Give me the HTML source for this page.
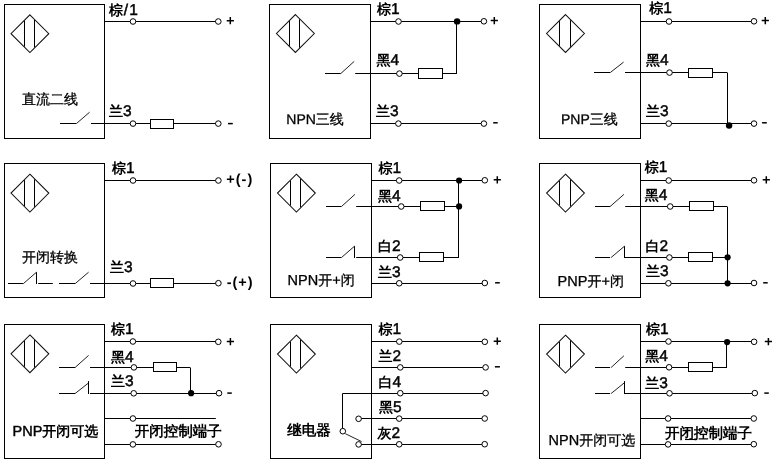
<!DOCTYPE html>
<html><head><meta charset="utf-8"><style>
html,body{margin:0;padding:0;background:#fff;width:782px;height:464px;overflow:hidden}
svg{position:absolute;left:0;top:0;transform:translateZ(0)}
path,rect,circle{fill:none;stroke:#000;stroke-width:1}
.w{fill:#fff}
.k{fill:#000;stroke:none}
.d{stroke:#111;stroke-width:1.05}
.g{stroke:#222;stroke-width:1}
.s{stroke:#000}
text{font-family:"Liberation Sans",sans-serif;fill:#000;stroke:none;text-rendering:geometricPrecision}
text.b{font-weight:normal;stroke:#000;stroke-width:0.45}
text.bb{font-weight:bold;letter-spacing:1px}
text.b tspan.c{font-weight:bold;stroke:none}
text.r{font-weight:normal}
text.r{stroke:#000;stroke-width:0.3}
</style></head><body>
<svg width="782" height="464" viewBox="0 0 782 464">
<rect x="4.5" y="4.5" width="100" height="134"/>
<path class="d" d="M29.9 14.800000000000004L48.8 33.7L29.9 52.6L11.0 33.7Z"/>
<path d="M24.5 20.800000000000004V46.6"/>
<path d="M34.5 20.000000000000007V47.4"/>
<path d="M104 21.5H218"/>
<circle class="w" cx="133" cy="21.5" r="2.8"/>
<circle class="w" cx="218.3" cy="21.5" r="2.8"/>
<text class="b" x="109" y="15.3" style="font-size:15.5px"><tspan class="c" style="font-size:14px">棕</tspan><tspan dx="0.8">/</tspan><tspan dx="1.2">1</tspan></text>
<path class="s" style="stroke-width:1.5" d="M226.70000000000002 20.7H233.9M230.3 17.099999999999998V24.3"/>
<text class="r" x="22" y="104.0" style="font-size:14.5px"><tspan class="c" style="font-size:14px">直流二线</tspan></text>
<path d="M60 123.5H76.5"/>
<path class="g" d="M76.5 123.5L89.6 112.2"/>
<path d="M91 123.5H218"/>
<rect class="w" x="150.5" y="119.5" width="23" height="9"/>
<circle class="w" cx="133" cy="123.6" r="2.8"/>
<circle class="w" cx="218.3" cy="123.6" r="2.8"/>
<text class="b" x="109" y="116.3" style="font-size:15.5px"><tspan class="c" style="font-size:14px">兰</tspan>3</text>
<path class="s" style="stroke-width:1.5" d="M228 123.6H232.8"/>
<rect x="269.5" y="4.5" width="101" height="134"/>
<path class="d" d="M295.4 14.600000000000001L314.29999999999995 33.5L295.4 52.4L276.5 33.5Z"/>
<path d="M289.5 21.09999999999998V45.90000000000002"/>
<path d="M299.5 19.300000000000026V47.699999999999974"/>
<path d="M370 21.5H483"/>
<circle class="w" cx="398.5" cy="21.5" r="2.8"/>
<circle class="k" cx="457.1" cy="21.4" r="3.2"/>
<circle class="w" cx="483.9" cy="21.3" r="2.8"/>
<text class="b" x="377" y="14.3" style="font-size:15.5px"><tspan class="c" style="font-size:14px">棕</tspan>1</text>
<path class="s" style="stroke-width:1.5" d="M490.7 20.6H497.90000000000003M494.3 17.0V24.200000000000003"/>
<path d="M325 73.5H340.8"/>
<path class="g" d="M340.8 73.5L354.2 61.4"/>
<path d="M355.2 73.5H442"/>
<rect class="w" x="418.5" y="68.5" width="24" height="10"/>
<path d="M442 73.5H457"/>
<path d="M456.5 21.5V74"/>
<circle class="w" cx="399.4" cy="73.6" r="2.8"/>
<text class="b" x="376.5" y="65.3" style="font-size:15.5px"><tspan class="c" style="font-size:14px">黑</tspan>4</text>
<path d="M370 123.5H483"/>
<circle class="w" cx="398.4" cy="123.6" r="2.8"/>
<circle class="w" cx="483.9" cy="123.6" r="2.8"/>
<text class="b" x="376" y="116.3" style="font-size:15.5px"><tspan class="c" style="font-size:14px">兰</tspan>3</text>
<path class="s" style="stroke-width:1.5" d="M493.2 122.8H497.7"/>
<text class="r" x="286.3" y="124.0" style="font-size:14px">NPN<tspan class="c" style="font-size:14px">三线</tspan></text>
<rect x="539.5" y="4.5" width="101" height="134"/>
<path class="d" d="M565.5 14.600000000000001L584.4 33.5L565.5 52.4L546.6 33.5Z"/>
<path d="M559.5 21.200000000000003V45.8"/>
<path d="M570.5 20.200000000000003V46.8"/>
<path d="M640 21.5H754"/>
<circle class="w" cx="669" cy="21.5" r="2.8"/>
<circle class="w" cx="754" cy="21.3" r="2.8"/>
<text class="b" x="649.3" y="13.1" style="font-size:15.5px"><tspan class="c" style="font-size:14px">棕</tspan>1</text>
<path class="s" style="stroke-width:1.5" d="M761.6999999999999 20.6H768.9M765.3 17.0V24.200000000000003"/>
<path d="M594 72.5H610.3"/>
<path class="g" d="M610.3 72.5L623.6 62.1"/>
<path d="M625 72.5H712"/>
<rect class="w" x="688.5" y="68.5" width="24" height="9"/>
<path d="M712 72.5H727"/>
<path d="M727.5 72.5V124"/>
<circle class="w" cx="669.5" cy="72.6" r="2.8"/>
<circle class="k" cx="729.1" cy="125.5" r="3.2"/>
<text class="b" x="646" y="65.3" style="font-size:15.5px"><tspan class="c" style="font-size:14px">黑</tspan>4</text>
<path d="M640 123.5H754"/>
<circle class="w" cx="668.7" cy="123.6" r="2.8"/>
<circle class="w" cx="754" cy="123.6" r="2.8"/>
<text class="b" x="646" y="115.8" style="font-size:15.5px"><tspan class="c" style="font-size:14px">兰</tspan>3</text>
<path class="s" style="stroke-width:1.5" d="M762.1 122.8H766.8"/>
<text class="r" x="561" y="124.4" style="font-size:14px">PNP<tspan class="c" style="font-size:14px">三线</tspan></text>
<rect x="4.5" y="163.5" width="100" height="134"/>
<path class="d" d="M29.9 174.2L48.8 193.1L29.9 212.0L11.0 193.1Z"/>
<path d="M24.5 180.2V206.0"/>
<path d="M34.5 179.4V206.79999999999998"/>
<path d="M104 180.5H218"/>
<circle class="w" cx="133" cy="180.5" r="2.8"/>
<circle class="w" cx="218.4" cy="180.5" r="2.8"/>
<text class="b" x="112" y="173.3" style="font-size:15.5px"><tspan class="c" style="font-size:14px">棕</tspan>1</text>
<text class="bb" x="226.3" y="184.2" style="font-size:14.5px">+(-)</text>
<text class="r" x="22" y="262.0" style="font-size:14.5px"><tspan class="c" style="font-size:14px">开闭转换</tspan></text>
<path d="M8 283.5H23.5"/>
<path class="g" d="M23.5 283.5L36.5 272.2"/>
<path d="M36.5 272.2V284"/>
<path d="M38.2 283.5H52.8"/>
<path d="M59 283.5H75.3"/>
<path class="g" d="M75.3 283.5L88.6 272.2"/>
<path d="M90 283.5H218"/>
<rect class="w" x="150.5" y="278.5" width="23" height="9"/>
<circle class="w" cx="133" cy="283.5" r="2.8"/>
<circle class="w" cx="218.4" cy="283.2" r="2.8"/>
<text class="b" x="110" y="272.3" style="font-size:15.5px"><tspan class="c" style="font-size:14px">兰</tspan>3</text>
<text class="bb" x="226.7" y="286.6" style="font-size:14.5px">-(+)</text>
<rect x="270.5" y="163.5" width="101" height="134"/>
<path class="d" d="M296.4 174.2L315.29999999999995 193.1L296.4 212.0L277.5 193.1Z"/>
<path d="M290.5 180.69999999999996V205.50000000000003"/>
<path d="M300.5 178.9V207.29999999999998"/>
<path d="M371 180.5H484"/>
<circle class="w" cx="399.2" cy="180.5" r="2.8"/>
<circle class="k" cx="459.1" cy="180.5" r="3.1"/>
<circle class="w" cx="484.8" cy="180.3" r="2.8"/>
<text class="b" x="378.5" y="173.3" style="font-size:15.5px"><tspan class="c" style="font-size:14px">棕</tspan>1</text>
<path class="s" style="stroke-width:1.5" d="M493.7 179.8H500.90000000000003M497.3 176.20000000000002V183.4"/>
<path d="M326 206.5H341.5"/>
<path class="g" d="M341.5 206.5L354.9 194.4"/>
<path d="M356.2 206.5H458"/>
<rect class="w" x="420.5" y="201.5" width="24" height="9"/>
<circle class="w" cx="401.2" cy="206.5" r="2.8"/>
<circle class="k" cx="459.1" cy="206.4" r="3.1"/>
<text class="b" x="378" y="200.8" style="font-size:15.5px"><tspan class="c" style="font-size:14px">黑</tspan>4</text>
<path d="M326 257.5H341.5"/>
<path class="g" d="M341.5 257.5L354.5 246.2"/>
<path d="M354.5 246.2V258"/>
<path d="M356.2 257.5H458"/>
<rect class="w" x="419.5" y="252.5" width="24" height="9"/>
<circle class="w" cx="400.2" cy="257.5" r="2.8"/>
<path d="M458.5 180.5V258"/>
<text class="b" x="378" y="250.6" style="font-size:15.5px"><tspan class="c" style="font-size:14px">白</tspan>2</text>
<path d="M371 283.5H484"/>
<circle class="w" cx="399.2" cy="283.3" r="2.8"/>
<circle class="w" cx="484.8" cy="283" r="2.8"/>
<text class="b" x="378" y="276.9" style="font-size:15.5px"><tspan class="c" style="font-size:14px">兰</tspan>3</text>
<path class="s" style="stroke-width:1.5" d="M495.1 282.8H499.8"/>
<text class="r" x="287.6" y="285.0" style="font-size:14.5px">NPN<tspan class="c" style="font-size:14px">开</tspan>+<tspan class="c" style="font-size:14px">闭</tspan></text>
<rect x="539.5" y="163.5" width="101" height="134"/>
<path class="d" d="M565.5 174.2L584.4 193.1L565.5 212.0L546.6 193.1Z"/>
<path d="M559.5 180.79999999999998V205.4"/>
<path d="M570.5 179.79999999999998V206.4"/>
<path d="M640 180.5H754"/>
<circle class="w" cx="668.7" cy="180.5" r="2.8"/>
<circle class="w" cx="754" cy="180.3" r="2.8"/>
<text class="b" x="644.8" y="171.8" style="font-size:15.5px"><tspan class="c" style="font-size:14px">棕</tspan>1</text>
<path class="s" style="stroke-width:1.5" d="M762.6999999999999 179.8H769.9M766.3 176.20000000000002V183.4"/>
<path d="M595 206.5H610.1"/>
<path class="g" d="M610.1 206.5L623.9 194.4"/>
<path d="M625.2 206.5H727"/>
<rect class="w" x="689.5" y="201.5" width="24" height="9"/>
<circle class="w" cx="670.2" cy="206.5" r="2.8"/>
<path d="M727.5 206.5V284"/>
<text class="b" x="644.8" y="199.8" style="font-size:15.5px"><tspan class="c" style="font-size:14px">黑</tspan>4</text>
<path d="M595 257.5H610.1"/>
<path class="g" d="M611.1 257.5L624.5 246.2"/>
<path d="M624.5 246.2V258"/>
<path d="M624.5 257.5H727"/>
<rect class="w" x="688.5" y="252.5" width="24" height="9"/>
<circle class="w" cx="669.4" cy="257.5" r="2.8"/>
<circle class="k" cx="727.6" cy="257.3" r="3.1"/>
<text class="b" x="645.5" y="250.6" style="font-size:15.5px"><tspan class="c" style="font-size:14px">白</tspan>2</text>
<path d="M640 283.5H754"/>
<circle class="w" cx="668.4" cy="283.3" r="2.8"/>
<circle class="k" cx="727.6" cy="283.3" r="3.1"/>
<circle class="w" cx="754" cy="283" r="2.8"/>
<text class="b" x="646" y="276.3" style="font-size:15.5px"><tspan class="c" style="font-size:14px">兰</tspan>3</text>
<path class="s" style="stroke-width:1.5" d="M763.2 282.8H767.7"/>
<text class="r" x="557.6" y="285.5" style="font-size:14.5px">PNP<tspan class="c" style="font-size:14px">开</tspan>+<tspan class="c" style="font-size:14px">闭</tspan></text>
<rect x="4.5" y="324.5" width="100" height="134"/>
<path class="d" d="M29.9 334.90000000000003L48.8 353.8L29.9 372.7L11.0 353.8Z"/>
<path d="M24.5 340.90000000000003V366.7"/>
<path d="M34.5 340.1V367.5"/>
<path d="M104 341.5H218"/>
<circle class="w" cx="132.9" cy="341.5" r="2.8"/>
<circle class="w" cx="218.3" cy="341.8" r="2.8"/>
<text class="b" x="110.9" y="334.3" style="font-size:15.5px"><tspan class="c" style="font-size:14px">棕</tspan>1</text>
<path class="s" style="stroke-width:1.5" d="M226.8 341.6H234.0M230.4 338.0V345.20000000000005"/>
<path d="M59 367.5H75.1"/>
<path class="g" d="M75.1 367.5L88.6 355.4"/>
<path d="M90 367.5H190"/>
<rect class="w" x="153.5" y="362.5" width="23" height="9"/>
<circle class="w" cx="133.9" cy="367.4" r="2.8"/>
<path d="M190.5 367.5V394"/>
<text class="b" x="110.9" y="361.5" style="font-size:15.5px"><tspan class="c" style="font-size:14px">黑</tspan>4</text>
<path d="M59 393.5H75.1"/>
<path class="g" d="M75.1 393.5L88.5 383"/>
<path d="M88.5 381.1V394"/>
<path d="M90 393.5H218"/>
<circle class="w" cx="133.7" cy="393.3" r="2.8"/>
<circle class="k" cx="191.1" cy="393.2" r="3.1"/>
<circle class="w" cx="219.0" cy="393.2" r="2.8"/>
<text class="b" x="110.9" y="386.3" style="font-size:15.5px"><tspan class="c" style="font-size:14px">兰</tspan>3</text>
<path class="s" style="stroke-width:1.5" d="M227.3 393.1H231.8"/>
<path d="M104 418.5H215.8"/>
<circle class="w" cx="132.9" cy="418.5" r="2.8"/>
<text class="b" x="134.8" y="436.3" style="font-size:15.5px"><tspan class="c" style="font-size:14.5px">开闭控制端子</tspan></text>
<path d="M104 444.5H218"/>
<circle class="w" cx="132.9" cy="444.4" r="2.8"/>
<circle class="w" cx="218.5" cy="444.3" r="2.8"/>
<text class="b" x="12.5" y="436.3" style="font-size:14.5px">PNP<tspan class="c" style="font-size:14px">开闭可选</tspan></text>
<rect x="270.5" y="324.5" width="101" height="134"/>
<path class="d" d="M296.4 335.20000000000005L315.29999999999995 354.1L296.4 373.0L277.5 354.1Z"/>
<path d="M290.5 341.7V366.50000000000006"/>
<path d="M300.5 339.90000000000003V368.3"/>
<path d="M371 341.5H485"/>
<circle class="w" cx="399.3" cy="341.6" r="2.8"/>
<circle class="w" cx="484.8" cy="341.8" r="2.8"/>
<text class="b" x="378.5" y="334.3" style="font-size:15.5px"><tspan class="c" style="font-size:14px">棕</tspan>1</text>
<path class="s" style="stroke-width:1.5" d="M493.7 341.2H500.90000000000003M497.3 337.59999999999997V344.8"/>
<path d="M371 367.5H485"/>
<circle class="w" cx="400.3" cy="367.4" r="2.8"/>
<circle class="w" cx="485.6" cy="367.4" r="2.8"/>
<text class="b" x="378.5" y="361.3" style="font-size:15.5px"><tspan class="c" style="font-size:14px">兰</tspan>2</text>
<path class="s" style="stroke-width:1.5" d="M494.9 366.8H499.9"/>
<path d="M342.5 428.5V393.5H485"/>
<circle class="w" cx="400.3" cy="393.2" r="2.8"/>
<circle class="w" cx="485.6" cy="393.1" r="2.8"/>
<text class="b" x="378.5" y="386.8" style="font-size:15.5px"><tspan class="c" style="font-size:14px">白</tspan>4</text>
<path d="M361 418.5H485"/>
<circle class="w" cx="358.6" cy="418.8" r="2.8"/>
<circle class="w" cx="399.2" cy="418.6" r="2.8"/>
<circle class="w" cx="484.7" cy="418.5" r="2.8"/>
<text class="b" x="378.9" y="411.9" style="font-size:15.5px"><tspan class="c" style="font-size:14px">黑</tspan>5</text>
<path d="M361 444.5H485"/>
<circle class="w" cx="358.6" cy="444.4" r="2.8"/>
<circle class="w" cx="399.2" cy="444.3" r="2.8"/>
<circle class="w" cx="484.7" cy="444.2" r="2.8"/>
<circle class="w" cx="342.8" cy="431.2" r="2.8"/>
<path class="g" d="M345.3 433.7L361.6 441.6"/>
<text class="b" x="377.6" y="438.3" style="font-size:15.5px"><tspan class="c" style="font-size:14px">灰</tspan>2</text>
<text class="b" x="287.3" y="435.3" style="font-size:15.5px"><tspan class="c" style="font-size:14.5px">继电器</tspan></text>
<rect x="539.5" y="324.5" width="101" height="134"/>
<path class="d" d="M565.5 335.20000000000005L584.4 354.1L565.5 373.0L546.6 354.1Z"/>
<path d="M559.5 341.8V366.40000000000003"/>
<path d="M570.5 340.8V367.40000000000003"/>
<path d="M640 341.5H754"/>
<circle class="w" cx="668.5" cy="341.5" r="2.8"/>
<circle class="k" cx="727.1" cy="342.1" r="3.1"/>
<circle class="w" cx="754.1" cy="341.8" r="2.8"/>
<text class="b" x="646" y="334.3" style="font-size:15.5px"><tspan class="c" style="font-size:14px">棕</tspan>1</text>
<path class="s" style="stroke-width:1.5" d="M764.8 341.6H772.0M768.4 338.0V345.20000000000005"/>
<path d="M595 367.5H610.1"/>
<path class="g" d="M611.1 367.5L623.9 355.8"/>
<path d="M625.2 367.5H726"/>
<rect class="w" x="688.5" y="362.5" width="24" height="9"/>
<circle class="w" cx="669.1" cy="367.3" r="2.8"/>
<path d="M726.5 342V368"/>
<text class="b" x="645.2" y="361.1" style="font-size:15.5px"><tspan class="c" style="font-size:14px">黑</tspan>4</text>
<path d="M595 393.5H610.1"/>
<path class="g" d="M611.1 393.5L624.5 382.7"/>
<path d="M624.5 381.1V394"/>
<path d="M624.5 393.5H754"/>
<circle class="w" cx="669.5" cy="393.3" r="2.8"/>
<circle class="w" cx="754.8" cy="393.1" r="2.8"/>
<text class="b" x="645.2" y="387.5" style="font-size:15.5px"><tspan class="c" style="font-size:14px">兰</tspan>3</text>
<path class="s" style="stroke-width:1.5" d="M764.3 393.1H768.8"/>
<path d="M640 418.5H754"/>
<circle class="w" cx="668.1" cy="418.5" r="2.8"/>
<circle class="w" cx="753.8" cy="418.5" r="2.8"/>
<text class="b" x="665" y="437.8" style="font-size:15.5px"><tspan class="c" style="font-size:14.5px">开闭控制端子</tspan></text>
<path style="stroke-width:1.1" d="M685 439.5H697"/>
<path d="M640 444.5H754"/>
<circle class="w" cx="668.1" cy="444.4" r="2.8"/>
<circle class="w" cx="753.8" cy="444.2" r="2.8"/>
<text class="r" x="548.6" y="445.0" style="font-size:14.5px">NPN<tspan class="c" style="font-size:14px">开闭可选</tspan></text>
</svg>
</body></html>
